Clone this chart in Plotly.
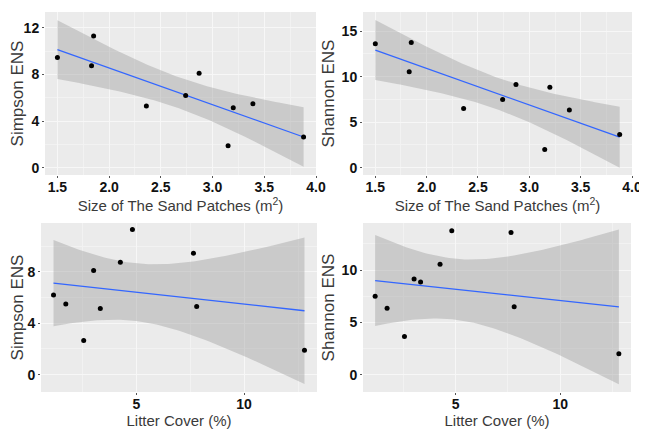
import numpy as np
import plotly.graph_objects as go

# ---- data (10 sampling sites) ----
sand_size = [1.50, 1.85, 1.83, 2.36, 2.74, 2.87, 3.15, 3.20, 3.39, 3.88]
litter_cover = [7.65, 4.82, 4.26, 7.80, 1.16, 3.02, 12.80, 3.33, 1.73, 2.56]
simpson_ens = [9.45, 11.30, 8.75, 5.30, 6.20, 8.10, 1.90, 5.15, 5.50, 2.65]
shannon_ens = [13.60, 13.75, 10.55, 6.50, 7.50, 9.15, 2.00, 8.85, 6.35, 3.65]

sand_ticks = [1.5, 2.0, 2.5, 3.0, 3.5, 4.0]
litter_ticks = [5, 10]
simpson_ticks = [0, 4, 8, 12]
shannon_ticks = [0, 5, 10, 15]

T975_DF8 = 2.306  # t quantile for 95% CI, n-2 = 8 df


def lm_band(x, y, n=80):
    x = np.asarray(x, float)
    y = np.asarray(y, float)
    b1, b0 = np.polyfit(x, y, 1)
    resid = y - (b0 + b1 * x)
    s = np.sqrt((resid ** 2).sum() / (len(x) - 2))
    sxx = ((x - x.mean()) ** 2).sum()
    xs = np.linspace(x.min(), x.max(), n)
    fit = b0 + b1 * xs
    se = s * np.sqrt(1 / len(x) + (xs - x.mean()) ** 2 / sxx)
    return xs, fit, fit - T975_DF8 * se, fit + T975_DF8 * se


# the page body has an 8px margin, so the figure is placed at (8, 8) in the window
OFF = 8
W, H = 647 - OFF, 431 - OFF
fig = go.Figure()

panels = [
    (sand_size, simpson_ens, "x", "y", (45, 316), (12, 175), [1.38, 4.0], [-0.6, 13.35],
     sand_ticks, simpson_ticks, "Size of The Sand Patches (m<sup>2</sup>)", "Simpson ENS"),
    (sand_size, shannon_ens, "x2", "y2", (363, 632), (12, 175), [1.38, 4.0], [-0.8, 17.1],
     sand_ticks, shannon_ticks, "Size of The Sand Patches (m<sup>2</sup>)", "Shannon ENS"),
    (litter_cover, simpson_ens, "x3", "y3", (41, 317), (223, 392), [0.58, 13.38], [-1.35, 11.8],
     litter_ticks, [0, 4, 8], "Litter Cover (%)", "Simpson ENS"),
    (litter_cover, shannon_ens, "x4", "y4", (363, 631), (223, 392), [0.58, 13.38], [-1.65, 14.5],
     litter_ticks, [0, 5, 10], "Litter Cover (%)", "Shannon ENS"),
]

FAM = "Liberation Sans, Arial, sans-serif"
tickfont = dict(family=FAM, size=14, color="#111111", weight="bold")
xtitlefont = dict(family=FAM, size=15, color="#3a3a3a")
ytitlefont = dict(family=FAM, size=17, color="#3a3a3a")

layout_axes = {}
for i, (xd, yd, xa, ya, xpx, ypx, xr, yr, xt, yt, xtitle, ytitle) in enumerate(panels):
    xs, fit, lo, hi = lm_band(xd, yd)
    fig.add_trace(go.Scatter(x=np.concatenate([xs, xs[::-1]]), y=np.concatenate([hi, lo[::-1]]),
                             fill="toself", fillcolor="rgba(153,153,153,0.4)", line=dict(width=0),
                             hoverinfo="skip", showlegend=False, xaxis=xa, yaxis=ya, mode="lines"))
    fig.add_trace(go.Scatter(x=xs, y=fit, mode="lines", line=dict(color="#3366FF", width=1.3),
                             showlegend=False, xaxis=xa, yaxis=ya))
    fig.add_trace(go.Scatter(x=xd, y=yd, mode="markers", marker=dict(color="black", size=5),
                             showlegend=False, xaxis=xa, yaxis=ya))
    xkey = "xaxis" + ("" if i == 0 else str(i + 1))
    ykey = "yaxis" + ("" if i == 0 else str(i + 1))
    common = dict(showgrid=True, gridcolor="#F7F7F7", gridwidth=1, zeroline=False,
                  showline=False, ticks="outside", ticklen=2, tickcolor="#555555",
                  tickfont=tickfont, automargin=False)
    xminor = [(a + b) / 2 for a, b in zip(xt[:-1], xt[1:])] if xa in ("x", "x2") else [2.5, 7.5, 12.5]
    yminor = [(a + b) / 2 for a, b in zip(yt[:-1], yt[1:])] + [yt[-1] + (yt[1] - yt[0]) / 2]
    x0, x1 = (xpx[0] - OFF) / W, (xpx[1] - OFF) / W
    y0, y1 = 1 - (ypx[1] - OFF) / H, 1 - (ypx[0] - OFF) / H
    layout_axes[xkey] = dict(common, domain=[x0, x1], range=xr, tickvals=xt,
                             ticktext=[f"{v:.1f}" if isinstance(v, float) else str(v) for v in xt],
                             ticklabelstandoff=-3,
                             anchor=ya, title=dict(text=xtitle, font=xtitlefont, standoff=0),
                             minor=dict(showgrid=True, gridcolor="#F2F2F2", gridwidth=0.6,
                                        tickvals=xminor, ticks=""))
    layout_axes[ykey] = dict(common, domain=[y0, y1], range=yr, tickvals=yt,
                             anchor=xa, title=dict(text=ytitle, font=ytitlefont, standoff=2),
                             minor=dict(showgrid=True, gridcolor="#F2F2F2", gridwidth=0.6,
                                        tickvals=yminor, ticks=""))

fig.update_layout(
    width=W, height=H,
    margin=dict(l=0, r=0, t=0, b=0, autoexpand=False),
    paper_bgcolor="white",
    plot_bgcolor="#EBEBEB",
    **layout_axes,
)

fig.write_html("out.html")
